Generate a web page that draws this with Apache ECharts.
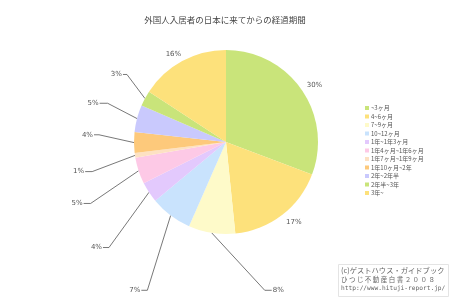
<!DOCTYPE html>
<html>
<head>
<meta charset="utf-8">
<script src="https://cdn.jsdelivr.net/npm/echarts@6/dist/echarts.min.js"></script>
<style>
html,body{margin:0;padding:0;background:#fff;}
#chart{width:450px;height:300px;}
</style>
</head>
<body>
<div id="chart"></div>
<script>
var titleText = '外国人入居者の日本に来てからの経過期間';
var categories = ['~3ヶ月','4~6ヶ月','7~9ヶ月','10~12ヶ月','1年~1年3ヶ月','1年4ヶ月~1年6ヶ月','1年7ヶ月~1年9ヶ月','1年10ヶ月~2年','2年~2年半','2年半~3年','3年~'];
var values = [30.4, 17.4, 8.1, 7.3, 3.6, 4.6, 0.8, 3.6, 4.7, 2.7, 15.6];
var colors = ['#c9e47a','#fde17b','#fefac9','#c9e3fd','#e3c9fd','#fdc9e6','#fde1c3','#fdc97b','#c9c9fd','#c9e47a','#fde17b'];
var footerLines = ['(c)ゲストハウス・ガイドブック','ひ つ じ 不 動 産 白 書 ２ ０ ０ ８','http://www.hituji-report.jp/'];

// label placement relative to the slice's mid-angle edge point: [dx, dy, horizontal segment, side, hasLine]
var labelPlace = {
  0: [4, -5, 0, 'left', false],
  1: [3, 7, 0, 'left', false],
  2: [53, 57.4, 7, 'left', true],
  3: [-23.3, 74.8, 6, 'right', true],
  4: [-40, 55.2, 6, 'right', true],
  5: [-48, 32.7, 7, 'right', true],
  6: [-42.8, 16.2, 7, 'right', true],
  7: [-35, -7.8, 5, 'right', true],
  8: [-29.4, -15.3, 8, 'right', true],
  9: [-18, -24, 4, 'right', true],
  10: [0, -7, 0, 'right', false]
};

var data = categories.map(function (c, i) {
  var d = { name: c, value: values[i], itemStyle: { color: colors[i] } };
  if (!labelPlace[i][4]) d.labelLine = { lineStyle: { opacity: 0 } };
  return d;
});

var chart = echarts.init(document.getElementById('chart'), null, { renderer: 'canvas' });
chart.setOption({
  backgroundColor: '#ffffff',
  animation: false,
  title: {
    text: titleText, left: 'center', top: 11,
    textStyle: { fontSize: 8.5, fontWeight: 'normal', color: '#444', fontFamily: 'Noto Sans CJK JP' }
  },
  legend: {
    orient: 'vertical', left: 360, top: 100,
    itemWidth: 4, itemHeight: 4, itemGap: 2.5,
    icon: 'rect',
    textStyle: { fontSize: 6, color: '#555', fontFamily: 'Noto Sans CJK JP', padding: [0, 0, 0, -3] },
    data: categories
  },
  series: [{
    type: 'pie',
    center: [226, 142],
    radius: 92,
    startAngle: 90,
    clockwise: true,
    avoidLabelOverlap: false,
    itemStyle: { borderWidth: 0 },
    emphasis: { disabled: true },
    label: {
      show: true, position: 'outside', fontSize: 7, color: '#555',
      fontFamily: 'DejaVu Sans',
      formatter: function (p) { return Math.round(p.value) + '%'; }
    },
    labelLine: { show: true, length: 5, length2: 5, smooth: false, lineStyle: { color: '#555', width: 0.8 } },
    labelLayout: function (p) {
      var pl = labelPlace[p.dataIndex];
      var pts = p.labelLinePoints;
      if (!pts) return {};
      var s = pts[0];
      var kx = s[0] + pl[0], ky = s[1] + pl[1];
      var dir = pl[3] === 'left' ? 1 : -1;
      var ex = kx + dir * pl[2];
      return {
        x: ex + dir * 1, y: ky,
        align: pl[3], verticalAlign: 'middle',
        labelLinePoints: [[s[0], s[1]], [kx, ky], [ex, ky]]
      };
    },
    data: data
  }],
  graphic: [
    { type: 'rect', shape: { x: 338.5, y: 264.5, width: 110, height: 32 }, style: { fill: 'none', stroke: '#e4e4e4', lineWidth: 1 } },
    { type: 'text', left: 341, top: 266.5, style: { text: footerLines[0], fontSize: 7.3, fill: '#666', fontFamily: 'Noto Sans CJK JP' } },
    { type: 'text', left: 341, top: 276, style: { text: footerLines[1], fontSize: 6.5, fill: '#666', fontFamily: 'Noto Sans CJK JP' } },
    { type: 'text', left: 341, top: 285, style: { text: footerLines[2], fontSize: 6.2, fill: '#666', fontFamily: 'DejaVu Sans Mono' } }
  ]
});
</script>
</body>
</html>
